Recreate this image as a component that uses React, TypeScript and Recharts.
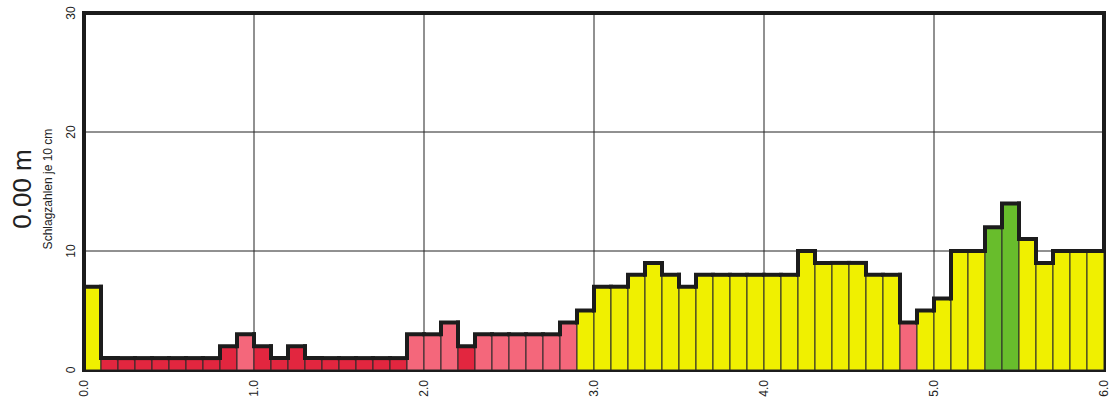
import { BarChart, Bar, XAxis, YAxis, CartesianGrid, ReferenceArea } from "recharts"

// start depth of each 10 cm interval (m)
const depths = [
  0.0, 0.1, 0.2, 0.3, 0.4, 0.5, 0.6, 0.7, 0.8, 0.9,
  1.0, 1.1, 1.2, 1.3, 1.4, 1.5, 1.6, 1.7, 1.8, 1.9,
  2.0, 2.1, 2.2, 2.3, 2.4, 2.5, 2.6, 2.7, 2.8, 2.9,
  3.0, 3.1, 3.2, 3.3, 3.4, 3.5, 3.6, 3.7, 3.8, 3.9,
  4.0, 4.1, 4.2, 4.3, 4.4, 4.5, 4.6, 4.7, 4.8, 4.9,
  5.0, 5.1, 5.2, 5.3, 5.4, 5.5, 5.6, 5.7, 5.8, 5.9,
]

// blow counts per 10 cm
const blows = [
  7, 1, 1, 1, 1, 1, 1, 1, 2, 3,
  2, 1, 2, 1, 1, 1, 1, 1, 1, 3,
  3, 4, 2, 3, 3, 3, 3, 3, 4, 5,
  7, 7, 8, 9, 8, 7, 8, 8, 8, 8,
  8, 8, 10, 9, 9, 9, 8, 8, 4, 5,
  6, 10, 10, 12, 14, 11, 9, 10, 10, 10,
]

const xTicks = [0, 1, 2, 3, 4, 5, 6]
const yTicks = [0, 10, 20, 30]

// bars sit at the middle of each 10 cm interval
const data = depths.map((d, i) => ({ mid: d + 0.05, blows: blows[i] }))

const FONT = "'Liberation Sans', Arial, sans-serif"

function colour(v: number) {
  if (v >= 12) return "#68bd2c"
  if (v >= 5) return "#f0f000"
  if (v >= 3) return "#f4677b"
  return "#e2263f"
}

function StepBar(props: any) {
  const { x, y, width, height, index, payload } = props
  const v = payload.blows
  const base = y + height
  const unit = v ? height / v : 0
  const prevY = index > 0 ? base - blows[index - 1] * unit : base
  return (
    <g>
      <rect x={x} y={y} width={width} height={height} fill={colour(v)} stroke="#2a2a2a" strokeWidth={1} />
      <path
        d={`M${x},${prevY}L${x},${y}L${x + width},${y}`}
        fill="none"
        stroke="#1c1c1c"
        strokeWidth={4}
        strokeLinecap="square"
      />
    </g>
  )
}

function YTick(props: any) {
  const { x, y, payload } = props
  const tx = x - 11
  return (
    <text
      x={tx}
      y={y}
      transform={`rotate(-90, ${tx}, ${y})`}
      textAnchor="middle"
      dominantBaseline="central"
      fontSize={12}
      fontFamily={FONT}
      fill="#222"
    >
      {payload.value}
    </text>
  )
}

function XTick(props: any) {
  const { x, y, payload } = props
  const ty = y + 8
  return (
    <text
      x={x}
      y={ty}
      transform={`rotate(-90, ${x}, ${ty})`}
      textAnchor="end"
      dominantBaseline="central"
      fontSize={12}
      fontFamily={FONT}
      fill="#222"
    >
      {Number(payload.value).toFixed(1)}
    </text>
  )
}

const rotated = (cx: number, cy: number, size: number): React.CSSProperties => ({
  position: "absolute",
  left: cx,
  top: cy,
  transform: "translate(-50%, -50%) rotate(-90deg)",
  whiteSpace: "nowrap",
  fontFamily: FONT,
  fontSize: size,
  color: "#222",
  lineHeight: 1,
})

export default function App() {
  return (
    <div style={{ position: "absolute", left: 0, top: 0, width: 1119, height: 408, background: "#fff" }}>
      <div style={rotated(22, 189, 26)}>0.00 m</div>
      <div style={rotated(48, 189, 12)}>Schlagzahlen je 10 cm</div>
      <BarChart
        width={1119}
        height={408}
        data={data}
        barCategoryGap={0}
        margin={{ top: 13, right: 15, bottom: 0, left: 54 }}
      >
        <CartesianGrid stroke="#222" strokeWidth={1} />
        <XAxis
          dataKey="mid"
          type="number"
          domain={[0, 6]}
          ticks={xTicks}
          allowDataOverflow
          axisLine={false}
          tickLine={false}
          tickSize={0}
          height={38}
          tick={<XTick />}
          interval={0}
        />
        <YAxis
          domain={[0, 30]}
          ticks={yTicks}
          allowDataOverflow
          axisLine={false}
          tickLine={false}
          tickSize={0}
          width={30}
          tick={<YTick />}
          interval={0}
        />
        <Bar dataKey="blows" shape={<StepBar />} isAnimationActive={false} />
        <ReferenceArea
          x1={0}
          x2={6}
          y1={0}
          y2={30}
          fill="none"
          stroke="#1c1c1c"
          strokeWidth={4}
          ifOverflow="visible"
        />
      </BarChart>
    </div>
  )
}
